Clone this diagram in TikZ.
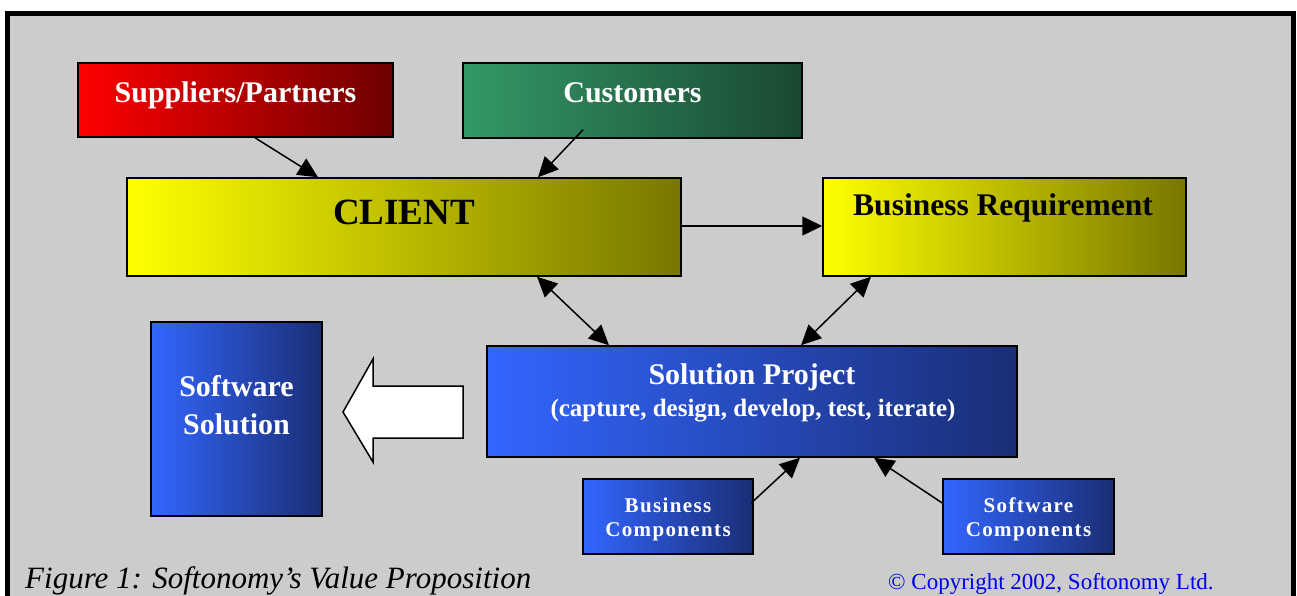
\documentclass[tikz,border=0pt]{standalone}
\usepackage{fontspec}
\setmainfont{Liberation Serif}
\usetikzlibrary{arrows.meta,calc}
\definecolor{bg}{RGB}{204,204,204}
\definecolor{supL}{RGB}{255,0,0}
\definecolor{supR}{RGB}{110,0,0}
\definecolor{cusL}{RGB}{51,153,102}
\definecolor{cusR}{RGB}{26,72,50}
\definecolor{yelL}{RGB}{255,255,0}
\definecolor{yelR}{RGB}{119,119,0}
\definecolor{bluL}{RGB}{51,102,255}
\definecolor{bluR}{RGB}{26,46,118}
\definecolor{cpy}{RGB}{0,0,235}
\tikzset{
  box/.style={draw=black, line width=1.5pt, inner sep=0pt, shading=axis},
  redbox/.style={box, left color=supL, right color=supR},
  grnbox/.style={box, left color=cusL, right color=cusR},
  yelbox/.style={box, left color=yelL, right color=yelR},
  blubox/.style={box, left color=bluL, right color=bluR},
  txt/.style={inner sep=0pt, anchor=base},
  big/.style={txt, font=\fontsize{30}{36}\selectfont\bfseries},
  wbig/.style={big, text=white},
  wsmall/.style={txt, text=white, font=\fontsize{21}{24}\selectfont\bfseries\addfontfeature{LetterSpace=6.5}},
  tipA/.tip={Triangle[length=20pt,width=19pt]},
  arr/.style={line width=1.5pt, -tipA},
  dbl/.style={line width=1.5pt, tipA-tipA},
}
\begin{document}
\begin{tikzpicture}[x=1pt,y=-1pt]
\useasboundingbox (0,0) rectangle (1297,595);
\clip (0,0) rectangle (1297,595);
\fill[white] (0,0) rectangle (1297,595);
\draw[line width=5pt, fill=bg] (7.5,13.5) rectangle (1293.5,640);

% boxes
\node[redbox, minimum width=315pt, minimum height=74pt] (sup) at (235.5,100) {};
\node[grnbox, minimum width=339pt, minimum height=75pt] (cus) at (632.5,100.5) {};
\node[yelbox, minimum width=554pt, minimum height=98pt] (cli) at (404,227) {};
\node[yelbox, minimum width=363pt, minimum height=98pt] (br) at (1004.5,227) {};
\node[blubox, minimum width=530pt, minimum height=111pt] (sp) at (752,401.5) {};
\node[blubox, minimum width=171pt, minimum height=194pt] (ss) at (236.5,419) {};
\node[blubox, minimum width=170pt, minimum height=75pt] (bc) at (668,516.5) {};
\node[blubox, minimum width=171pt, minimum height=75pt] (sc) at (1028.5,516.5) {};

% texts
\node[wbig] (supT) at (235.5,102) {Suppliers/Partners};
\node[wbig] (cusT) at (632.5,102) {Customers};
\node[txt, font=\fontsize{37}{42}\selectfont\bfseries] (cliT) at (404,224) {CLIENT};
\node[txt, font=\fontsize{31.5}{36}\selectfont\bfseries] (brT) at (1003,215) {Business Requirement};
\node[wbig] (ssT1) at (236.5,396) {Software};
\node[wbig] (ssT2) at (236.5,434) {Solution};
\node[wbig] (spT1) at (752,384) {Solution Project};
\node[txt, text=white, font=\fontsize{25}{30}\selectfont\bfseries] (spT2) at (753,416) {(capture, design, develop, test, iterate)};
\node[wsmall] (bcT1) at (668,512) {Business};
\node[wsmall] (bcT2) at (668,536) {Components};
\node[wsmall] (scT1) at (1028.5,512) {Software};
\node[wsmall] (scT2) at (1028.5,536) {Components};

% connectors
\draw[arr] ([xshift=19.5pt]sup.south) -- ([xshift=-86pt]cli.north);
\draw[arr] ([xshift=-49.5pt,yshift=9pt]cus.south) -- ([xshift=134pt]cli.north);
\draw[arr] ([yshift=1pt]cli.east) -- ([yshift=1pt]br.west);
\draw[dbl] ([xshift=133pt]cli.south) -- ([xshift=-143pt]sp.north);
\draw[dbl] ([xshift=-133.5pt]br.south) -- ([xshift=49pt]sp.north);
\draw[arr] ([xshift=-2.5pt,yshift=13.5pt]bc.east) -- ([xshift=48pt]sp.south);
\draw[arr] ([yshift=13.5pt]sc.west) -- ([xshift=122pt]sp.south);

% big hollow arrow
\draw[line width=1.5pt, fill=white, line join=miter]
  (343,412) -- (373,359) -- (373,386) -- (463,386) -- (463,438) -- (373,438) -- (373,462) -- cycle;

% caption and copyright
\node[inner sep=0pt, anchor=base west, font=\fontsize{31}{36}\selectfont\itshape] (cap) at (25,588) {Figure 1: Softonomy’s Value Proposition};
\node[inner sep=0pt, anchor=base west, text=cpy, font=\fontsize{23}{27}\selectfont] (copy) at (888,589) {© Copyright 2002, Softonomy Ltd.};
\end{tikzpicture}
\end{document}
